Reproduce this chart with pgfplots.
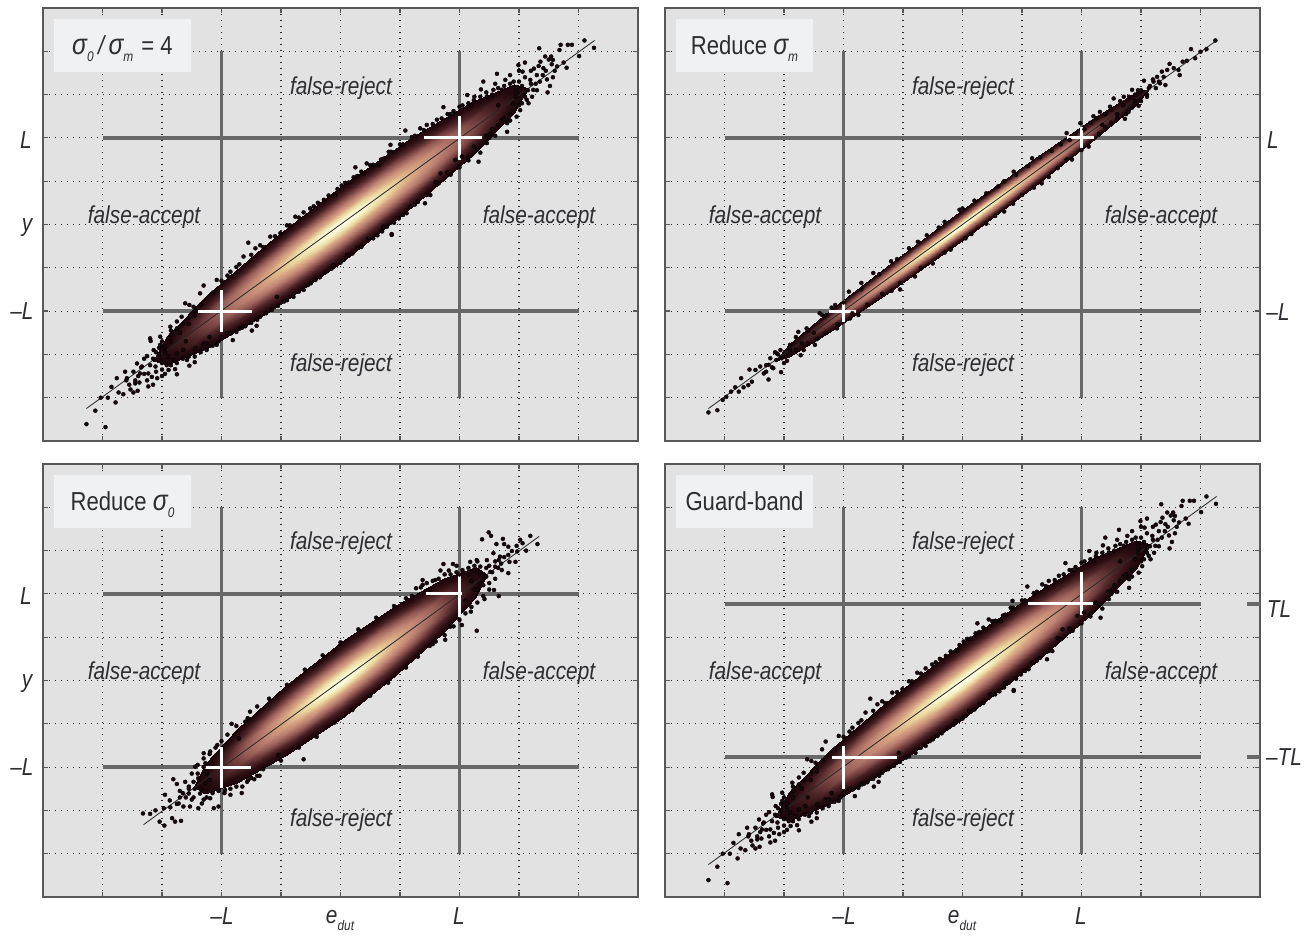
\documentclass[border=0pt]{standalone}
\usepackage{pgfplots}
\usepackage{pgfplotstable}
\usepackage{fontspec}
\setmainfont{Liberation Sans}[FakeStretch=0.85]
\pgfplotsset{compat=1.18}
\definecolor{bgg}{RGB}{226,226,226}
\definecolor{frm}{RGB}{88,88,88}
\definecolor{thick}{RGB}{104,104,104}
\definecolor{boxc}{RGB}{240,241,243}
\definecolor{txt}{RGB}{45,45,50}
\definecolor{dotc}{RGB}{25,8,12}

% density body: rings of the cloud, x y r
\pgfplotstableread{
x y r
0 0 0
0 0 0
0 0 0
0 0 0
0 0 0
0 0 0
0 0 0
0 0 0
0 0 0
0 0 0
0 0 0
0 0 0
0 0 0
0 0 0
0 0 0
0 0 0
0 0 0
1.05 1.05 1
.97 1.07 1
.74 .92 1
.40 .63 1
0 .25 1
-.40 -.17 1
-.74 -.56 1
-.97 -.87 1
-1.05 -1.05 1
-.97 -1.07 1
-.74 -.92 1
-.40 -.63 1
0 -.25 1
.40 .17 1
.74 .56 1
.97 .87 1
1.05 1.05 1
2.1 2.1 2
1.94 2.13 2
1.48 1.83 2
.80 1.26 2
0 .5 2
-.80 -.34 2
-1.48 -1.13 2
-1.94 -1.75 2
-2.1 -2.1 2
-1.94 -2.13 2
-1.48 -1.83 2
-.80 -1.26 2
0 -.5 2
.80 .34 2
1.48 1.13 2
1.94 1.75 2
2.1 2.1 2
2.8 2.8 3
2.59 2.87 3
1.98 2.49 3
1.07 1.74 3
0 .72 3
-1.07 -.40 3
-1.98 -1.47 3
-2.59 -2.31 3
-2.8 -2.8 3
-2.59 -2.87 3
-1.98 -2.49 3
-1.07 -1.74 3
0 -.72 3
1.07 .40 3
1.98 1.47 3
2.59 2.31 3
2.8 2.8 3
3.15 3.15 3.6
2.91 3.25 3.6
2.23 2.85 3.6
1.21 2.02 3.6
0 .88 3.6
-1.21 -.40 3.6
-2.23 -1.61 3.6
-2.91 -2.57 3.6
-3.15 -3.15 3.6
-2.91 -3.25 3.6
-2.23 -2.85 3.6
-1.21 -2.02 3.6
0 -.88 3.6
1.21 .40 3.6
2.23 1.61 3.6
2.91 2.57 3.6
3.15 3.15 3.6
}\shapeA
\pgfplotstableread{
x y r
0 0 0
0 0 0
0 0 0
0 0 0
0 0 0
0 0 0
0 0 0
0 0 0
0 0 0
0 0 0
0 0 0
0 0 0
0 0 0
0 0 0
0 0 0
0 0 0
0 0 0
1.05 1.05 1
.97 1.01 1
.74 .81 1
.40 .49 1
0 .10 1
-.40 -.31 1
-.74 -.67 1
-.97 -.93 1
-1.05 -1.05 1
-.97 -1.01 1
-.74 -.81 1
-.40 -.49 1
0 -.10 1
.40 .31 1
.74 .67 1
.97 .93 1
1.05 1.05 1
2.1 2.1 2
1.94 2.02 2
1.48 1.62 2
.80 .98 2
0 .2 2
-.80 -.62 2
-1.48 -1.34 2
-1.94 -1.86 2
-2.1 -2.1 2
-1.94 -2.02 2
-1.48 -1.62 2
-.80 -.98 2
0 -.2 2
.80 .62 2
1.48 1.34 2
1.94 1.86 2
2.1 2.1 2
2.8 2.8 3
2.59 2.70 3
1.98 2.19 3
1.07 1.34 3
0 .29 3
-1.07 -.80 3
-1.98 -1.77 3
-2.59 -2.48 3
-2.8 -2.8 3
-2.59 -2.70 3
-1.98 -2.19 3
-1.07 -1.34 3
0 -.29 3
1.07 .80 3
1.98 1.77 3
2.59 2.48 3
2.8 2.8 3
3.15 3.15 3.6
2.91 3.05 3.6
2.23 2.48 3.6
1.21 1.54 3.6
0 .36 3.6
-1.21 -.88 3.6
-2.23 -1.98 3.6
-2.91 -2.77 3.6
-3.15 -3.15 3.6
-2.91 -3.05 3.6
-2.23 -2.48 3.6
-1.21 -1.54 3.6
0 -.36 3.6
1.21 .88 3.6
2.23 1.98 3.6
2.91 2.77 3.6
3.15 3.15 3.6
}\shapeB
\pgfplotstableread{
x y r
0 0 0
0 0 0
0 0 0
0 0 0
0 0 0
0 0 0
0 0 0
0 0 0
0 0 0
0 0 0
0 0 0
0 0 0
0 0 0
0 0 0
0 0 0
0 0 0
0 0 0
.82 .82 1
.76 .86 1
.58 .76 1
.31 .54 1
0 .25 1
-.31 -.08 1
-.58 -.40 1
-.76 -.66 1
-.82 -.82 1
-.76 -.86 1
-.58 -.76 1
-.31 -.54 1
0 -.25 1
.31 .08 1
.58 .40 1
.76 .66 1
.82 .82 1
1.64 1.64 2
1.52 1.71 2
1.16 1.51 2
.63 1.09 2
0 .5 2
-.63 -.17 2
-1.16 -.81 2
-1.52 -1.33 2
-1.64 -1.64 2
-1.52 -1.71 2
-1.16 -1.51 2
-.63 -1.09 2
0 -.5 2
.63 .17 2
1.16 .81 2
1.52 1.33 2
1.64 1.64 2
2.18 2.18 3
2.01 2.29 3
1.54 2.05 3
.83 1.50 3
0 .72 3
-.83 -.16 3
-1.54 -1.03 3
-2.01 -1.73 3
-2.18 -2.18 3
-2.01 -2.29 3
-1.54 -2.05 3
-.83 -1.50 3
0 -.72 3
.83 .16 3
1.54 1.03 3
2.01 1.73 3
2.18 2.18 3
2.46 2.46 3.6
2.27 2.61 3.6
1.74 2.36 3.6
.94 1.75 3.6
0 .88 3.6
-.94 -.13 3.6
-1.74 -1.12 3.6
-2.27 -1.93 3.6
-2.46 -2.46 3.6
-2.27 -2.61 3.6
-1.74 -2.36 3.6
-.94 -1.75 3.6
0 -.88 3.6
.94 .13 3.6
1.74 1.12 3.6
2.27 1.93 3.6
2.46 2.46 3.6
}\shapeC

% single points of the wide cloud (panels 1 and 4)
\pgfplotstableread{
x y
4.26 4.08
4.10 4.25
4.01 3.89
3.89 4.15
3.82 4.15
3.70 4.15
3.68 4.03
3.34 4.07
3.44 3.88
3.50 3.81
3.57 3.80
3.54 3.88
3.75 3.74
3.80 3.62
3.64 3.65
3.57 3.40
3.47 3.35
3.52 3.20
3.48 3.05
3.33 3.66
3.41 3.61
3.36 3.76
3.10 3.74
2.99 3.68
3.06 3.53
2.63 3.48
2.77 3.34
2.85 3.45
2.91 3.30
3.19 3.34
3.24 3.11
3.13 2.88
3.16 2.80
3.02 2.64
2.96 2.49
2.80 2.34
2.80 2.14
2.52 2.10
2.32 1.45
1.73 2.71
2.36 3.12
2.13 2.99
2.24 2.87
2.46 2.95
2.71 3.11
2.96 3.03
2.57 3.11
3.05 3.20
3.20 3.55
3.28 3.25
2.90 2.80
2.95 3.15
2.65 2.75
2.70 2.40
2.60 3.25
2.40 3.30
2.20 2.75
2.00 2.72
1.90 2.62
1.80 2.55
1.09 2.17
0.84 1.84
1.45 2.30
1.34 2.22
1.20 2.02
1.00 1.85
1.62 2.42
1.51 0.68
1.42 0.49
0.86 -0.24
0.72 -0.05
1.11 0.26
1.68 1.18
1.93 1.49
2.04 1.57
2.24 1.80
2.46 1.88
2.60 2.05
1.30 0.52
1.60 0.98
1.80 1.20
2.15 1.48
2.35 1.66
-4.27 -4.61
-3.95 -4.68
-4.12 -4.30
-3.78 -4.11
-3.91 -4.00
-4.03 -4.00
-3.85 -3.75
-3.73 -3.88
-3.65 -3.92
-3.53 -3.81
-3.48 -3.88
-3.41 -3.84
-3.23 -3.74
-3.76 -3.55
-3.59 -3.55
-3.45 -3.67
-3.38 -3.65
-3.62 -3.40
-3.48 -3.40
-3.34 -3.28
-3.17 -3.52
-3.08 -3.55
-3.23 -3.44
-2.75 -3.46
-2.78 -3.34
-2.89 -3.36
-2.54 -3.26
-2.45 -3.18
-3.42 -3.21
-3.25 -3.04
-3.20 -2.63
-3.19 -2.69
-3.14 -2.90
-3.03 -2.78
-3.03 -2.59
-2.86 -2.36
-2.75 -2.24
-2.61 -1.82
-2.54 -1.86
-2.67 -2.13
-2.47 -1.90
-2.36 -1.59
-2.30 -1.41
-2.14 -1.57
-2.08 -1.28
-1.81 -2.67
-1.49 -2.45
-1.41 -2.34
-2.08 -2.78
-2.25 -2.90
-2.58 -3.13
-2.92 -3.25
-3.03 -3.13
-3.11 -3.28
-2.75 -2.98
-2.81 -3.13
-2.64 -2.90
-2.44 -2.86
-1.91 -2.51
-1.69 -2.40
-3.37 -3.44
-3.05 -3.00
-2.95 -2.85
-2.85 -2.70
-2.90 -3.05
-3.00 -3.35
-2.70 -2.50
-2.55 -2.30
-2.45 -2.10
-2.60 -2.70
-2.30 -2.75
-2.20 -2.60
-1.85 -1.09
-1.55 -0.42
-1.43 -0.55
-1.63 -0.74
-1.18 -0.28
-1.01 -0.20
-0.76 0.18
-0.51 0.37
-0.28 0.57
-0.09 0.68
0.25 1.32
0.14 0.97
0.44 1.41
0.39 1.18
0.81 1.68
0.64 1.37
-2.00 -1.30
-1.75 -0.98
-1.30 -0.52
-0.90 -0.02
-0.62 0.28
-0.38 0.50
0.02 0.90
0.28 1.12
0.55 1.38
0.72 1.52
-0.79 -1.67
-0.62 -1.51
-0.42 -1.28
-0.12 -0.94
0.11 -0.70
0.28 -0.55
0.47 -0.32
0.86 -0.22
0.98 0.14
1.17 0.41
-1.07 -1.67
-1.25 -2.05
-1.05 -1.88
-0.90 -1.75
-1.60 -2.35
-1.40 -2.20
-1.75 -2.48
-0.55 -1.40
-0.25 -1.10
0.00 -0.88
0.62 -0.25
0.78 -0.05
3.00 3.30
3.10 3.40
3.15 3.10
3.20 3.25
3.30 3.45
3.25 3.60
3.35 3.30
3.40 3.45
3.10 2.95
3.05 2.80
2.95 2.95
3.00 3.55
2.85 3.25
2.75 3.20
2.65 3.15
2.55 3.00
2.45 3.05
2.35 2.95
2.25 2.95
2.15 2.80
2.05 2.75
2.85 2.55
2.75 2.45
2.65 2.30
2.55 2.20
2.45 2.05
2.85 2.40
3.00 2.75
3.10 3.05
3.22 2.95
3.30 3.10
3.45 3.55
3.55 3.70
3.60 3.55
-3.00 -3.20
-3.10 -3.40
-3.15 -3.10
-3.20 -3.25
-3.30 -3.45
-3.25 -3.60
-3.35 -3.30
-3.40 -3.50
-3.10 -2.95
-3.05 -2.85
-2.95 -2.95
-3.00 -3.50
-2.85 -3.25
-2.75 -3.20
-2.65 -3.10
-2.55 -3.05
-2.45 -3.05
-2.35 -2.95
-2.25 -2.75
-2.15 -2.80
-2.05 -2.70
-2.85 -2.55
-2.75 -2.40
-2.65 -2.30
-2.55 -2.15
-2.45 -2.00
-2.35 -1.85
-2.85 -2.45
-3.00 -2.70
-3.30 -3.10
-3.45 -3.60
-3.55 -3.70
-3.60 -3.60
-3.15 -3.70
-2.95 -3.45
-1.90 -1.18
-1.70 -0.92
-1.50 -0.70
-1.35 -0.48
-1.10 -0.27
-0.85 -0.02
-0.70 0.16
-0.45 0.42
-0.20 0.67
-0.05 0.82
0.08 0.96
0.22 1.09
0.35 1.22
0.50 1.37
0.68 1.50
0.85 1.68
1.05 1.85
1.25 2.05
1.40 2.18
1.55 2.32
1.70 2.45
1.85 2.55
0.05 -0.82
-0.15 -1.02
-0.35 -1.22
-0.50 -1.36
-0.70 -1.55
-0.95 -1.78
-1.15 -1.97
-1.35 -2.13
-1.50 -2.27
-1.65 -2.38
-1.85 -2.52
-2.00 -2.60
0.20 -0.67
0.35 -0.52
0.55 -0.32
0.70 -0.16
0.90 0.04
1.05 0.22
1.25 0.46
1.45 0.68
1.65 0.95
1.85 1.15
2.00 1.32
2.15 1.55
2.30 1.75
2.50 2.00
}\ptsA

% single points of the narrow cloud (panel 2)
\pgfplotstableread{
x y
4.25 4.25
3.84 4.05
4.10 4.05
4.00 3.99
3.91 3.84
3.77 3.78
3.70 3.76
3.48 3.71
3.63 3.57
3.65 3.45
3.55 3.61
3.44 3.57
3.35 3.53
3.38 3.41
3.27 3.41
3.05 3.32
3.41 3.22
3.32 3.26
3.21 3.30
3.13 3.15
3.10 2.95
2.85 3.11
2.54 2.91
2.71 2.95
2.96 2.74
2.79 2.60
2.73 2.44
2.31 2.60
2.48 2.72
1.75 2.11
2.12 1.80
1.84 1.50
1.33 0.95
1.17 1.53
0.86 1.22
1.98 2.34
2.20 2.50
2.60 2.45
2.90 3.00
3.00 2.85
2.40 2.25
1.60 1.30
1.00 0.68
0.60 0.88
0.40 0.72
0.20 0.55
0.00 0.37
-0.30 0.06
-0.60 -0.25
-0.90 -0.55
-1.20 -0.85
-1.50 -1.12
-1.70 -1.35
-2.20 -1.92
-2.40 -2.05
-0.80 -1.20
-0.50 -0.90
-0.20 -0.58
0.15 -0.22
0.40 0.02
0.70 0.30
-4.27 -4.34
-4.12 -4.29
-4.03 -4.05
-3.97 -3.98
-3.89 -3.86
-3.82 -3.76
-3.76 -3.86
-3.68 -3.76
-3.72 -3.55
-3.58 -3.35
-3.54 -3.63
-3.60 -3.71
-3.26 -3.58
-3.48 -3.36
-3.40 -3.28
-3.34 -3.44
-3.23 -3.09
-3.18 -3.32
-3.05 -3.41
-3.26 -3.24
-3.12 -2.98
-3.13 -3.13
-3.04 -3.09
-3.06 -2.90
-2.76 -2.48
-2.72 -3.02
-2.90 -2.78
-2.92 -3.02
-2.48 -2.78
-2.67 -2.90
-2.62 -2.40
-2.36 -2.09
-2.14 -1.86
-1.75 -2.09
-1.91 -1.55
-1.19 -1.53
-1.05 -1.50
-2.11 -2.40
-1.89 -2.17
3.00 3.10
3.10 3.00
3.20 3.35
3.15 3.20
3.30 3.30
3.25 3.15
2.90 2.85
2.95 3.10
2.80 2.95
2.70 2.75
2.65 2.85
2.60 2.55
2.50 2.65
2.40 2.55
2.35 2.30
2.25 2.45
2.15 2.35
2.05 2.20
1.90 2.10
1.80 1.95
1.65 1.85
1.50 1.70
1.30 1.55
1.10 1.35
0.90 1.15
0.70 1.00
2.75 2.55
2.85 2.70
2.50 2.35
2.30 2.10
2.00 1.72
1.75 1.50
1.45 1.10
1.20 0.85
0.85 0.48
0.55 0.20
-3.00 -3.20
-3.10 -3.00
-3.20 -3.30
-3.15 -2.95
-3.30 -3.25
-3.30 -3.40
-2.90 -2.90
-2.95 -3.15
-2.80 -2.90
-2.80 -2.60
-2.70 -2.75
-2.60 -2.75
-2.60 -2.45
-2.50 -2.50
-2.45 -2.65
-2.30 -2.10
-2.30 -2.50
-2.10 -2.30
-2.00 -1.80
-1.85 -2.05
-1.70 -1.50
-1.60 -1.85
-1.40 -1.15
-1.35 -1.60
-1.10 -0.80
-1.05 -1.35
-0.75 -0.40
-0.70 -1.00
-0.40 -0.07
-0.30 -0.65
-0.05 0.34
0.05 -0.32
}\ptsB

% single points of the short cloud (panel 3)
\pgfplotstableread{
x y
2.49 3.42
2.53 3.34
2.38 3.26
2.73 3.27
2.62 3.15
2.75 3.15
3.02 3.25
3.19 3.34
3.31 3.15
3.06 3.17
2.96 3.11
2.82 3.09
3.12 3.00
2.97 2.98
2.88 2.99
2.57 2.94
2.68 2.86
2.82 2.90
2.94 2.74
2.84 2.74
2.66 2.78
2.82 2.48
2.71 2.55
2.60 2.63
2.46 2.78
2.29 2.78
2.18 2.74
2.52 2.51
2.40 2.40
2.58 2.09
2.66 1.95
2.42 1.88
2.29 1.15
2.19 1.59
2.04 1.28
1.76 0.94
1.55 0.84
1.89 2.69
1.73 2.69
1.82 2.54
1.68 2.54
1.38 2.32
1.38 2.21
1.27 2.13
1.59 2.32
2.24 2.55
2.35 2.63
2.35 2.24
1.84 1.24
2.10 1.85
2.25 2.10
2.50 2.25
2.60 2.35
2.15 2.45
2.00 2.45
1.95 2.65
2.45 2.60
1.50 2.10
1.20 1.95
-3.32 -3.07
-3.20 -3.08
-3.11 -3.00
-2.97 -2.95
-2.86 -2.93
-3.04 -3.26
-2.96 -3.35
-2.83 -3.18
-2.78 -3.26
-2.68 -3.24
-2.95 -2.64
-2.87 -2.77
-2.81 -2.28
-2.75 -2.39
-2.70 -2.55
-2.61 -2.34
-2.72 -2.84
-2.64 -2.91
-2.53 -2.91
-2.39 -2.95
-2.33 -2.84
-2.55 -2.61
-2.47 -2.70
-2.36 -2.61
-2.13 -2.95
-2.05 -2.91
-2.19 -2.72
-2.44 -1.99
-2.30 -1.68
-2.19 -1.64
-2.07 -1.49
-2.27 -1.91
-2.39 -2.26
-2.47 -2.34
-1.85 -2.64
-1.66 -2.60
-1.36 -2.20
-0.62 -1.82
-1.04 -1.72
-1.71 -1.34
-1.83 -1.00
-1.56 -0.87
-1.52 -0.72
-1.57 -2.34
-1.94 -2.53
-2.27 -2.37
-2.55 -2.45
-2.25 -2.15
-1.20 -0.42
-0.90 -0.10
-0.60 0.25
-0.30 0.58
0.00 0.88
0.30 1.18
0.60 1.45
0.90 1.72
1.10 1.90
-1.40 -0.60
-1.30 -2.05
-1.00 -1.85
-0.70 -1.55
-0.40 -1.30
-0.10 -0.97
0.20 -0.68
0.50 -0.35
0.80 -0.05
1.10 0.30
1.30 0.55
1.50 0.80
2.30 2.75
2.35 2.50
2.45 2.40
2.40 2.20
2.30 2.10
2.50 2.65
2.55 2.50
2.60 2.75
2.65 2.60
2.70 2.70
2.75 2.85
2.20 2.30
2.25 2.65
2.15 2.60
2.05 2.55
1.95 2.50
1.85 2.45
1.75 2.45
1.65 2.35
1.55 2.30
1.45 2.25
1.35 2.15
2.50 2.10
2.40 1.95
2.30 1.80
2.20 1.70
2.10 1.55
2.00 1.40
1.90 1.25
1.75 1.05
1.60 0.90
-2.30 -2.75
-2.35 -2.50
-2.45 -2.50
-2.40 -2.15
-2.30 -2.00
-2.50 -2.75
-2.55 -2.50
-2.60 -2.70
-2.65 -2.60
-2.70 -2.70
-2.75 -2.85
-2.20 -2.30
-2.25 -2.70
-2.15 -2.60
-2.05 -2.55
-1.95 -2.60
-1.85 -2.50
-1.75 -2.45
-1.65 -2.45
-1.50 -2.25
-1.40 -2.20
-2.50 -2.15
-2.40 -1.95
-2.30 -1.80
-2.20 -1.70
-2.10 -1.55
-2.00 -1.40
-1.90 -1.25
-1.75 -1.05
-1.60 -0.95
-1.55 -2.30
-1.45 -2.28
}\ptsC

\pgfplotsset{
  colormap={cloud}{rgb255(0cm)=(255,255,238) rgb255(0.4cm)=(248,245,205) rgb255(0.8cm)=(235,215,160) rgb255(1.2cm)=(215,165,130) rgb255(1.6cm)=(190,130,115) rgb255(2.2cm)=(130,75,72) rgb255(2.7cm)=(75,35,38) rgb255(3.2cm)=(40,12,16) rgb255(3.6cm)=(25,5,10)},
  panel/.style={anchor=south west, scale only axis, width=595pt, height=433pt,
    xmin=-5, xmax=5, ymin=-5, ymax=5,
    xtick={-4,-3,-2,-1,0,1,2,3,4}, ytick={-4,-3,-2,-1,0,1,2,3,4},
    xticklabels={}, yticklabels={},
    tick align=inside, ticks=both, xtick pos=both, ytick pos=both,
    major tick length=5pt,
    tick style={color=frm, line width=1.2pt},
    axis line style={color=frm, line width=1.6pt},
    grid=major,
    major grid style={color=black!85, line width=1.1pt, dash pattern=on 1.1pt off 4.9pt},
    axis background/.style={fill=bgg},
    colormap name=cloud, point meta min=0, point meta max=3.6},
  body/.style={surf, shader=interp, mesh/rows=5, mesh/cols=17, point meta=explicit, forget plot},
  bar/.style={color=thick, line width=3.4pt, forget plot},
  cross/.style={color=white, line width=3pt, forget plot},
  pts/.style={only marks, mark=*, mark size=2pt, mark options={fill=dotc, draw=none}, forget plot},
  dia/.style={color=black!85, line width=.8pt, forget plot}
}
\newcommand\sub[1]{\raisebox{-7pt}{\fontsize{14}{14}\selectfont\itshape #1}}
\newcommand\sig{{\fontsize{29}{29}\selectfont\itshape σ}}
\newcommand\lab[3]{\node[text=txt,font=\fontsize{24.5}{26}\selectfont\itshape] at (#1,#2) {#3};}
\newcommand\head[3]{\fill[boxc] (#1-68.5,#2-26.5) rectangle (#1+68.5,#2+26.5);
  \node[anchor=base,text=txt,font=\fontsize{26}{28}\selectfont] at (#1,#2-9) {#3};}

\begin{document}
\begin{tikzpicture}[x=1pt,y=1pt]
\path[use as bounding box] (0,0) rectangle (1311,937);

% panel 1
\begin{axis}[panel, at={(43pt,496pt)}]
\addplot[bar] coordinates {(-4,2) (4,2)};
\addplot[bar] coordinates {(-4,-2) (4,-2)};
\addplot[bar] coordinates {(-2,-4) (-2,4)};
\addplot[bar] coordinates {(2,-4) (2,4)};
\addplot[body] table[x=x,y=y,meta=r]{\shapeA};
\addplot[pts] table[x=x,y=y]{\ptsA};
\addplot[dia] coordinates {(-4.27,-4.25) (4.27,4.25)};
\addplot[cross] coordinates {(1.41,2) (2.38,2)};
\addplot[cross] coordinates {(2,1.5) (2,2.5)};
\addplot[cross] coordinates {(-2.39,-2) (-1.48,-2)};
\addplot[cross] coordinates {(-2,-2.48) (-2,-1.51)};
\end{axis}

% panel 2
\begin{axis}[panel, at={(665pt,496pt)}]
\addplot[bar] coordinates {(-4,2) (4,2)};
\addplot[bar] coordinates {(-4,-2) (4,-2)};
\addplot[bar] coordinates {(-2,-4) (-2,4)};
\addplot[bar] coordinates {(2,-4) (2,4)};
\addplot[body] table[x=x,y=y,meta=r]{\shapeB};
\addplot[pts] table[x=x,y=y]{\ptsB};
\addplot[dia] coordinates {(-4.27,-4.25) (4.27,4.25)};
\addplot[cross] coordinates {(1.76,2) (2.21,2)};
\addplot[cross] coordinates {(2,1.77) (2,2.25)};
\addplot[cross] coordinates {(-2.24,-2) (-1.79,-2)};
\addplot[cross] coordinates {(-2,-2.25) (-2,-1.74)};
\end{axis}

% panel 3
\begin{axis}[panel, at={(43pt,40pt)}]
\addplot[bar] coordinates {(-4,2) (4,2)};
\addplot[bar] coordinates {(-4,-2) (4,-2)};
\addplot[bar] coordinates {(-2,-4) (-2,4)};
\addplot[bar] coordinates {(2,-4) (2,4)};
\addplot[body] table[x=x,y=y,meta=r]{\shapeC};
\addplot[pts] table[x=x,y=y]{\ptsC};
\addplot[dia] coordinates {(-3.31,-3.33) (3.34,3.33)};
\addplot[cross] coordinates {(1.43,2) (2.05,2)};
\addplot[cross] coordinates {(2,1.47) (2,2.5)};
\addplot[cross] coordinates {(-2.39,-2) (-1.5,-2)};
\addplot[cross] coordinates {(-2,-2.48) (-2,-1.54)};
\end{axis}

% panel 4
\begin{axis}[panel, at={(665pt,40pt)}]
\addplot[bar] coordinates {(-4,1.77) (4,1.77)};
\addplot[bar] coordinates {(-4,-1.77) (4,-1.77)};
\addplot[bar] coordinates {(4.78,1.77) (5,1.77)};
\addplot[bar] coordinates {(4.78,-1.77) (5,-1.77)};
\addplot[bar] coordinates {(-2,-4) (-2,4)};
\addplot[bar] coordinates {(2,-4) (2,4)};
\addplot[body] table[x=x,y=y,meta=r]{\shapeA};
\addplot[pts] table[x=x,y=y]{\ptsA};
\addplot[dia] coordinates {(-4.27,-4.25) (4.27,4.25)};
\addplot[cross] coordinates {(1.10,1.77) (2.2,1.77)};
\addplot[cross] coordinates {(2,1.51) (2,2.5)};
\addplot[cross] coordinates {(-2.2,-1.77) (-1.10,-1.77)};
\addplot[cross] coordinates {(-2,-2.5) (-2,-1.51)};
\end{axis}

% region names
\lab{341}{849}{false-reject}
\lab{341}{572}{false-reject}
\lab{144}{720}{false-accept}
\lab{539}{720}{false-accept}
\lab{963}{849}{false-reject}
\lab{963}{572}{false-reject}
\lab{765}{720}{false-accept}
\lab{1161}{720}{false-accept}
\lab{341}{394}{false-reject}
\lab{341}{117}{false-reject}
\lab{144}{264}{false-accept}
\lab{539}{264}{false-accept}
\lab{963}{394}{false-reject}
\lab{963}{117}{false-reject}
\lab{765}{264}{false-accept}
\lab{1161}{264}{false-accept}

% panel headings
\head{122.5}{891.5}{\sig\sub{0}\,{\itshape /}\,\sig\sub{m}\hspace{2pt} = 4}
\head{744.5}{891.5}{Reduce \sig\sub{m}}
\head{122.5}{435.5}{Reduce \sig\sub{0}}
\head{744.5}{435.5}{Guard-band}

% axis names
\lab{26}{797}{L}
\lab{27}{709}{y}
\lab{22}{626}{–L}
\lab{26}{341}{L}
\lab{27}{253}{y}
\lab{22}{170}{–L}
\lab{1273}{797}{L}
\lab{1278}{625}{–L}
\lab{1279}{328}{TL}
\lab{1284}{180}{–TL}
\lab{222}{21}{–L}
\lab{459}{21}{L}
\lab{844}{21}{–L}
\lab{1081}{21}{L}
\node[text=txt,font=\fontsize{24.5}{26}\selectfont\itshape] at (340,17) {e\sub{dut}};
\node[text=txt,font=\fontsize{24.5}{26}\selectfont\itshape] at (962,17) {e\sub{dut}};
\end{tikzpicture}
\end{document}
